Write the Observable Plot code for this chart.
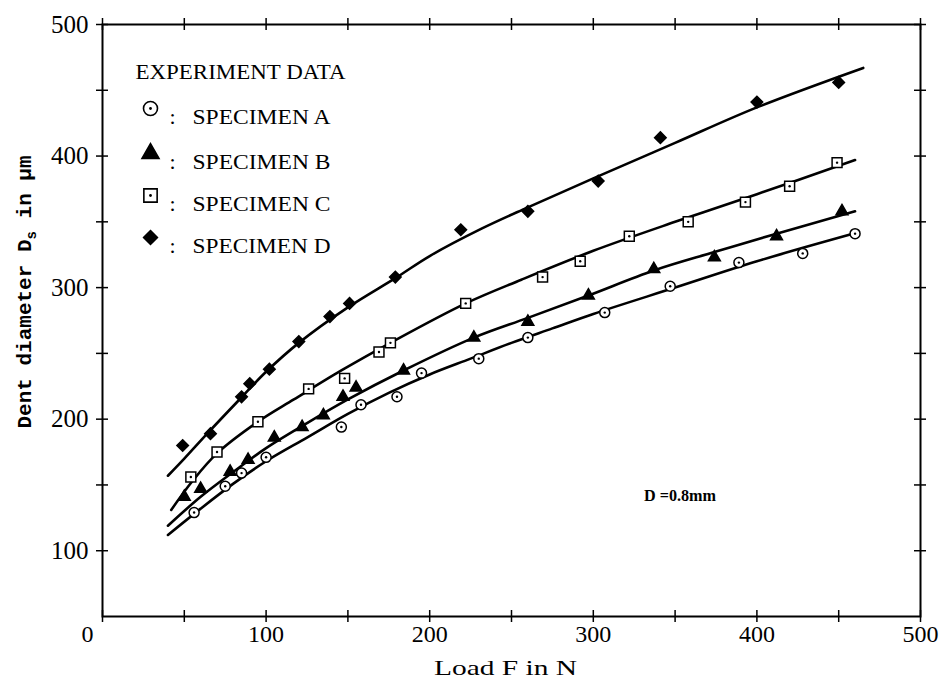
<!DOCTYPE html>
<html><head><meta charset="utf-8">
<script src="https://cdn.jsdelivr.net/npm/d3@7"></script>
<script src="https://cdn.jsdelivr.net/npm/@observablehq/plot@0.6"></script>
<style>
html,body{margin:0;padding:0;background:#fff;}
#chart{width:940px;height:691px;}
</style></head><body><div id="chart"></div>
<script>
// ---- Data ----
// Specimen A (open circles)
const loadA = [56,75,85,100,146,158,180,195,230,260,307,347,389,428,460];
const diamA = [129,149,159,171,194,211,217,235,246,262,281,301,319,326,341];
// Specimen B (filled triangles)
const loadB = [50,60,78,89,105,122,135,147,155,184,227,260,297,337,374,412,452];
const diamB = [141,147,160,169,186,194,203,217,224,237,262,274,294,314,323,339,358];
// Specimen C (open squares)
const loadC = [54,70,95,126,148,169,176,222,269,292,322,358,393,420,449];
const diamC = [156,175,198,223,231,251,258,288,308,320,339,350,365,377,395];
// Specimen D (filled diamonds)
const loadD = [49,66,85,90,102,120,139,151,179,219,260,303,341,400,450];
const diamD = [180,189,217,227,238,259,278,288,308,344,358,381,414,441,456];

// Fitted curves
const curveLoadA = [40,60,80,100,125,150,175,200,225,250,275,300,350,400,462];
const curveDiamA = [112,132,151,168,186,204,220,234,246,258,269,280,300,320,342];
const curveLoadB = [40,60,80,100,125,150,184,227,260,297,337,374,412,460];
const curveDiamB = [119,141,160,178,197,215,237,262,277,294,313,327,341,358];
const curveLoadC = [42,55,70,95,117,146,176,222,256,300,350,400,460];
const curveDiamC = [131,153,174,198,215,237,258,288,306,328,350,371,397];
const curveLoadD = [40,50,64,83,100,120,150,180,200,232,260,300,350,400,465];
const curveDiamD = [157,170,189,214,236,258,285,308,324,345,361,383,410,437,467];

// Axes
const xDomain = [0, 500];
const yDomain = [50, 500];
const xTickValues = [0,50,100,150,200,250,300,350,400,450,500];
const xTickLabels = [100,200,300,400,500];
const yTickValues = [100,150,200,250,300,350,400,450,500];
const yTickLabels = [100,200,300,400,500];

// Texts
const legendTitle = "EXPERIMENT DATA";
const legendNames = ["SPECIMEN A","SPECIMEN B","SPECIMEN C","SPECIMEN D"];
const xTitle = "Load F in N";
const yTitle = "Dent diameter Ds in μm";
const annotText = ["D =0.8mm"];
const annotLoad = [331];
const annotDiam = [142];

// ---- Layout ----
const W = 940, H = 691, mL = 102, mR = 20, mT = 24, mB = 75;
const frameW = W - mL - mR, frameH = H - mT - mB, tick = 6;

// ---- Build tables ----
const zip = (xs, ys) => xs.map((x, i) => ({x, y: ys[i]}));
const ptsA = zip(loadA, diamA), ptsB = zip(loadB, diamB), ptsC = zip(loadC, diamC), ptsD = zip(loadD, diamD);
const crvA = zip(curveLoadA, curveDiamA), crvB = zip(curveLoadB, curveDiamB),
      crvC = zip(curveLoadC, curveDiamC), crvD = zip(curveLoadD, curveDiamD);
const annot = annotText.map((t, i) => ({t, x: annotLoad[i], y: annotDiam[i]}));

const legendRowsDy = [84, 129, 171, 213];
const legendSymbols = [
  {symbol: "circle", r: 7, fill: "white", stroke: "black", dot: true},
  {symbol: "triangle", r: 6.3, fill: "black", stroke: "black", dot: false},
  {symbol: "square", r: 7.5, fill: "white", stroke: "black", dot: true},
  {symbol: "diamond2", r: 6.2, fill: "black", stroke: "black", dot: false}
];

const lineStyle = {x: "x", y: "y", curve: "catmull-rom", stroke: "black", strokeWidth: 2.6};

const marks = [
  Plot.frame({stroke: "black", strokeWidth: 2}),
  // ticks crossing the frame on all four sides
  Plot.tickX(xTickValues, {x: d => d, insetTop: frameH - tick, insetBottom: -tick, strokeWidth: 1.5}),
  Plot.tickX(xTickValues, {x: d => d, insetTop: -tick, insetBottom: frameH - tick, strokeWidth: 1.5}),
  Plot.tickY(yTickValues, {y: d => d, insetLeft: -tick, insetRight: frameW - tick, strokeWidth: 1.5}),
  Plot.tickY(yTickValues, {y: d => d, insetLeft: frameW - tick, insetRight: -tick, strokeWidth: 1.5}),
  Plot.axisX(xTickLabels, {anchor: "bottom", tickSize: 0, tickPadding: 8, fontSize: 24, label: null, fill: "black"}),
  Plot.text([0], {x: d => d, text: d => String(d), frameAnchor: "bottom", lineAnchor: "top", dy: 8, dx: -15, fontSize: 24}),
  Plot.axisY(yTickLabels, {anchor: "left", tickSize: 0, tickPadding: 14, fontSize: 25, label: null, fill: "black"}),
  // curves
  Plot.line(crvA, lineStyle),
  Plot.line(crvB, lineStyle),
  Plot.line(crvC, lineStyle),
  Plot.line(crvD, lineStyle),
  // points
  Plot.dot(ptsA, {x: "x", y: "y", r: 5, fill: "white", stroke: "black", strokeWidth: 1.5}),
  Plot.dot(ptsA, {x: "x", y: "y", r: 1.2, fill: "black"}),
  Plot.dot(ptsB, {x: "x", y: "y", symbol: "triangle", r: 4.4, fill: "black", stroke: "black"}),
  Plot.dot(ptsC, {x: "x", y: "y", symbol: "square", r: 5.6, fill: "white", stroke: "black", strokeWidth: 1.5}),
  Plot.dot(ptsC, {x: "x", y: "y", r: 1.2, fill: "black"}),
  Plot.dot(ptsD, {x: "x", y: "y", symbol: "diamond2", r: 5.2, fill: "black", stroke: "black"}),
  // annotation
  Plot.text(annot, {x: "x", y: "y", text: "t", textAnchor: "start", fontSize: 16, fontWeight: "bold", className: "annot"}),
  // legend
  Plot.text([legendTitle], {text: d => d, frameAnchor: "top-left", dx: 33, dy: 39, textAnchor: "start", fontSize: 22, className: "legtitle"}),
  ...legendNames.flatMap((name, i) => {
    const s = legendSymbols[i];
    const out = [
      Plot.dot([name], {frameAnchor: "top-left", dx: 48, dy: legendRowsDy[i], symbol: s.symbol, r: s.r, fill: s.fill, stroke: s.stroke, strokeWidth: 1.6}),
      Plot.text([":"], {text: d => d, frameAnchor: "top-left", dx: 67, dy: legendRowsDy[i], fontSize: 22}),
      Plot.text([name], {text: d => d, frameAnchor: "top-left", dx: 90, dy: legendRowsDy[i], textAnchor: "start", fontSize: 22, className: "legrow"})
    ];
    if (s.dot) out.push(Plot.dot([name], {frameAnchor: "top-left", dx: 48, dy: legendRowsDy[i], r: 1.4, fill: "black"}));
    return out;
  }),
  // axis titles
  Plot.text([xTitle], {text: d => d, frameAnchor: "bottom", dy: 58, dx: -6, fontSize: 21, className: "xlab"}),
  Plot.text([yTitle], {text: d => d, frameAnchor: "left", dx: -78, dy: 108, rotate: -90, fontSize: 21,
    textAnchor: "start", fontFamily: "Liberation Mono", fontWeight: "bold", className: "ylab"})
];

const chart = Plot.plot({
  width: W,
  height: H,
  marginLeft: mL,
  marginRight: mR,
  marginTop: mT,
  marginBottom: mB,
  x: {domain: xDomain},
  y: {domain: yDomain},
  style: {fontFamily: "Liberation Serif", background: "white", color: "black"},
  marks
});
document.getElementById("chart").appendChild(chart);

// text fitting to match the condensed typewriter lettering
const fit = (sel, len) => chart.querySelectorAll(sel).forEach(t => {
  t.setAttribute("textLength", len);
  t.setAttribute("lengthAdjust", "spacingAndGlyphs");
});
fit(".legtitle text", 210);
fit(".legrow text", 138);
fit(".xlab text", 143);
fit(".annot text", 72);

// subscript s in the y title
chart.querySelectorAll(".ylab text").forEach(t => {
  const full = t.textContent;
  const k = full.indexOf("Ds");
  if (k < 0) return;
  const ns = "http://www.w3.org/2000/svg";
  t.textContent = full.slice(0, k + 1);
  const sub = document.createElementNS(ns, "tspan");
  sub.setAttribute("dy", "5");
  sub.setAttribute("font-size", "14");
  sub.textContent = full.slice(k + 1, k + 2);
  const rest = document.createElementNS(ns, "tspan");
  rest.setAttribute("dy", "-5");
  rest.textContent = full.slice(k + 2);
  t.appendChild(sub);
  t.appendChild(rest);
});
</script>
</body></html>
